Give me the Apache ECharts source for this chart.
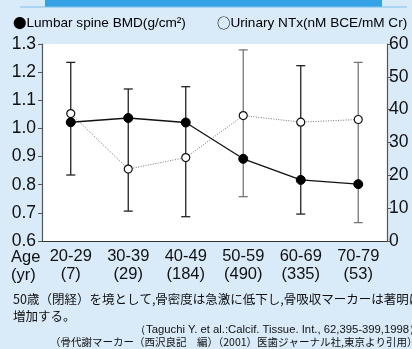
<!DOCTYPE html>
<html>
<head>
<meta charset="utf-8">
<script src="https://cdn.jsdelivr.net/npm/echarts@6/dist/echarts.min.js"></script>
<style>
  html, body { margin: 0; padding: 0; background: #d9eaf8; }
  #chart { width: 412px; height: 349px; }
</style>
</head>
<body>
<div id="chart"></div>
<script>
const AGES    = ["20-29", "30-39", "40-49", "50-59", "60-69", "70-79"];
const COUNTS  = ["(7)", "(29)", "(184)", "(490)", "(335)", "(53)"];
const BMD     = [1.022, 1.037, 1.021, 0.892, 0.817, 0.802];
const NTX     = [38.8, 21.9, 25.4, 38.2, 36.2, 37.0];
const ERR_LO  = [20.1, 9.1, 7.4, 13.5, 8.2, 5.6];
const ERR_HI  = [54.4, 46.3, 47.0, 58.2, 53.4, 54.4];
const ERR_CLR = ["#222", "#222", "#222", "#777", "#222", "#777"];

const FONT = "'Liberation Sans', Arial, sans-serif";
const CJK  = "'Noto Sans CJK JP', sans-serif";

const chart = echarts.init(document.getElementById("chart"));

const errData = AGES.map((a, i) => [i, ERR_LO[i], ERR_HI[i]]);

const legendRich = {
  m: { fontFamily: CJK, fontSize: 13.5, color: "#111" },
  t: { fontFamily: FONT, fontSize: 13.6, color: "#111" },
};

chart.setOption({
  animation: false,
  backgroundColor: "#d9eaf8",
  grid: { left: 42, right: 25, top: 44, bottom: 108, show: true, backgroundColor: "#fff", borderWidth: 0 },
  xAxis: {
    type: "category", data: AGES,
    axisLine: { lineStyle: { color: "#333", width: 1.2 } },
    axisTick: { alignWithLabel: true, length: 5, lineStyle: { color: "#333" } },
    axisLabel: {
      interval: 0, margin: 6, color: "#111", fontFamily: FONT, fontSize: 16.5, lineHeight: 18,
      formatter: (v, i) => v + "\n" + COUNTS[i],
    },
  },
  yAxis: [
    {
      type: "value", min: 0.6, max: 1.3, interval: 0.1,
      axisLine: { show: true, lineStyle: { color: "#555", width: 1.2 } },
      axisTick: { show: true, length: 4, lineStyle: { color: "#555" } },
      splitLine: { show: false },
      axisLabel: { margin: 6, color: "#111", fontFamily: FONT, fontSize: 17.5, formatter: v => v.toFixed(1) },
    },
    {
      type: "value", min: 0, max: 60, interval: 10,
      axisLine: { show: true, lineStyle: { color: "#555", width: 1.2 } },
      axisTick: { show: true, length: 4, lineStyle: { color: "#555" } },
      splitLine: { show: false },
      axisLabel: { margin: 2, color: "#111", fontFamily: FONT, fontSize: 17.5 },
    },
  ],
  series: [
    {
      type: "custom", yAxisIndex: 1, z: 1, data: errData,
      renderItem: (params, api) => {
        const i = api.value(0);
        const lo = api.coord([i, api.value(1)]);
        const hi = api.coord([i, api.value(2)]);
        const c = ERR_CLR[params.dataIndex];
        const w = 4.5;
        const st = { stroke: c, lineWidth: 1.3 };
        return {
          type: "group",
          children: [
            { type: "line", shape: { x1: lo[0], y1: lo[1], x2: hi[0], y2: hi[1] }, style: st },
            { type: "line", shape: { x1: lo[0] - w, y1: lo[1], x2: lo[0] + w, y2: lo[1] }, style: st },
            { type: "line", shape: { x1: hi[0] - w, y1: hi[1], x2: hi[0] + w, y2: hi[1] }, style: st },
          ],
        };
      },
    },
    {
      type: "line", yAxisIndex: 1, z: 3, data: NTX,
      symbol: "circle", symbolSize: 8,
      lineStyle: { color: "#777", width: 1, type: [1, 1.5] },
      itemStyle: { color: "#fff", borderColor: "#111", borderWidth: 1.2 },
    },
    {
      type: "line", yAxisIndex: 0, z: 4, data: BMD,
      symbol: "circle", symbolSize: 9,
      lineStyle: { color: "#111", width: 1.3 },
      itemStyle: { color: "#000", borderColor: "#000" },
    },
  ],
  graphic: [
    { type: "rect", shape: { x: 45, y: 0, width: 337, height: 7 }, style: { fill: "#36a2e6" } },
    { type: "line", shape: { x1: 20, y1: 7, x2: 407, y2: 7 }, style: { stroke: "#7cc0ec", lineWidth: 1 } },
    { type: "text", left: 13, top: 16, style: { text: "{m|●}{t|Lumbar spine BMD(g/cm²)}", rich: legendRich } },
    { type: "text", left: 217, top: 16, style: { text: "{m|○}{t|Urinary NTx(nM BCE/mM Cr)}", rich: legendRich } },
    { type: "text", left: 11, top: 248, style: { text: "Age\n(yr)", font: "16.5px " + FONT, lineHeight: 18, fill: "#111" } },
    { type: "text", left: 13, top: 291, style: { text: "50歳（閉経）を境として,骨密度は急激に低下し,骨吸収マーカーは著明に\n増加する。", font: "12.5px " + CJK, lineHeight: 17, fill: "#111" } },
    { type: "text", left: 135, top: 324, style: { text: "（Taguchi Y. et al.:Calcif. Tissue. Int., 62,395-399,1998）", font: "11.3px " + FONT, fill: "#111" } },
    { type: "text", left: 50, top: 337, style: { text: "（骨代謝マーカー（西沢良記　編）（2001）医歯ジャーナル社,東京より引用）", font: "10.5px " + CJK, fill: "#111" } },
  ],
});
</script>
</body>
</html>
